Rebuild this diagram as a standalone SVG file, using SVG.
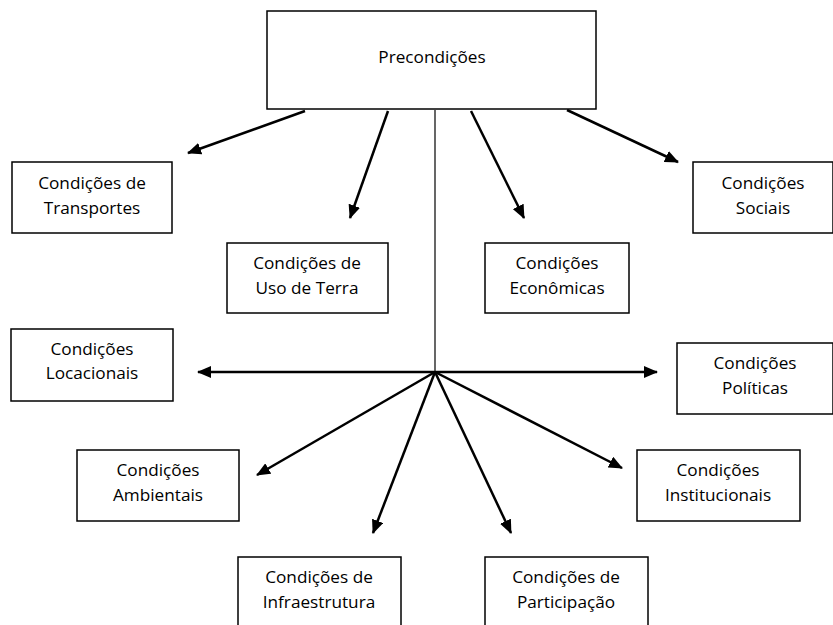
<svg xmlns="http://www.w3.org/2000/svg" width="833" height="625" viewBox="0 0 833 625">
<style>
.box{fill:#fff;stroke:#000;stroke-width:1.5}
.t{font-family:"Open Sans","Liberation Sans",sans-serif;font-size:17.2px;fill:#000;text-anchor:middle}
.a{stroke:#000;stroke-width:2.5;fill:none;marker-end:url(#ah)}
</style>
<defs>
<marker id="ah" markerUnits="userSpaceOnUse" viewBox="0 0 14 12" markerWidth="14" markerHeight="12" refX="13" refY="6" orient="auto">
<path d="M0,0 L14,6 L0,12 z" fill="#000"/>
</marker>
</defs>
<g id="connectors">
<line x1="435" y1="110" x2="435" y2="372" stroke="#000" stroke-width="1.2"/>
<line class="a" x1="305" y1="111" x2="188" y2="153"/>
<line class="a" x1="388" y1="111" x2="350" y2="218"/>
<line class="a" x1="471" y1="111" x2="524" y2="218"/>
<line class="a" x1="567" y1="110" x2="678" y2="162"/>
<line class="a" x1="435" y1="372" x2="198" y2="372"/>
<line class="a" x1="435" y1="372" x2="657" y2="372"/>
<line class="a" x1="435" y1="372" x2="257" y2="475"/>
<line class="a" x1="435" y1="372" x2="373" y2="533"/>
<line class="a" x1="435" y1="372" x2="511" y2="533"/>
<line class="a" x1="435" y1="372" x2="622" y2="468"/>
</g>
<g id="precondicoes"><rect class="box" x="267" y="11" width="329" height="98"/><text class="t" x="432" y="63">Precondições</text></g>
<g id="transportes"><rect class="box" x="12" y="162" width="160" height="71"/><text class="t" x="92" y="189">Condições de</text><text class="t" x="92" y="214">Transportes</text></g>
<g id="usoterra"><rect class="box" x="227" y="243" width="161" height="70"/><text class="t" x="307" y="269">Condições de</text><text class="t" x="307" y="294">Uso de Terra</text></g>
<g id="economicas"><rect class="box" x="485" y="243" width="144" height="70"/><text class="t" x="557" y="269">Condições</text><text class="t" x="557" y="294">Econômicas</text></g>
<g id="sociais"><rect class="box" x="693" y="162" width="140" height="71"/><text class="t" x="763" y="189">Condições</text><text class="t" x="763" y="214">Sociais</text></g>
<g id="locacionais"><rect class="box" x="11" y="329" width="162" height="72"/><text class="t" x="92" y="355">Condições</text><text class="t" x="92" y="379">Locacionais</text></g>
<g id="politicas"><rect class="box" x="677" y="343" width="156" height="71"/><text class="t" x="755" y="369">Condições</text><text class="t" x="755" y="394">Políticas</text></g>
<g id="ambientais"><rect class="box" x="77" y="450" width="162" height="71"/><text class="t" x="158" y="476">Condições</text><text class="t" x="158" y="501">Ambientais</text></g>
<g id="institucionais"><rect class="box" x="637" y="450" width="163" height="71"/><text class="t" x="718" y="476">Condições</text><text class="t" x="718" y="501">Institucionais</text></g>
<g id="infraestrutura"><rect class="box" x="238" y="557" width="163" height="80"/><text class="t" x="319" y="583">Condições de</text><text class="t" x="319" y="608">Infraestrutura</text></g>
<g id="participacao"><rect class="box" x="485" y="557" width="163" height="80"/><text class="t" x="566" y="583">Condições de</text><text class="t" x="566" y="608">Participação</text></g>
</svg>
